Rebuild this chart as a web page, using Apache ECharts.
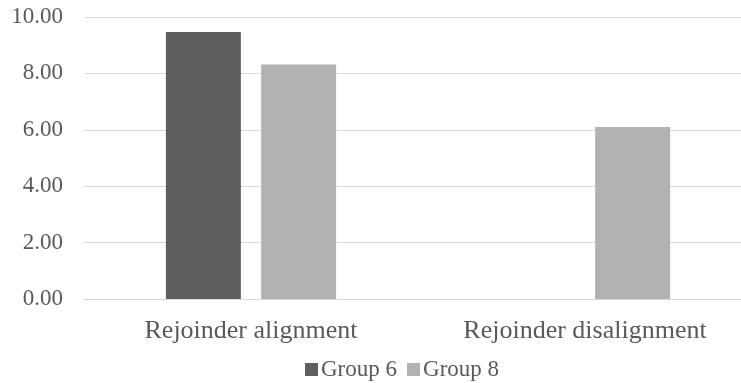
<!DOCTYPE html>
<html>
<head>
<meta charset="utf-8">
<script src="https://cdn.jsdelivr.net/npm/echarts@6/dist/echarts.min.js"></script>
<style>
  html, body { margin: 0; padding: 0; background: #fff; overflow: hidden; width: 741px; height: 383px; }
  /* the plot area runs slightly past the right edge of the page */
  #chart { width: 752px; height: 383px; }
</style>
</head>
<body>
<div id="chart"></div>
<script>
// Mean scores per rejoinder type
const categories = ['Rejoinder alignment', 'Rejoinder disalignment'];
const group6 = [9.47, 0];
const group8 = [8.32, 6.10];
const yTicks = { min: 0, max: 10, interval: 2 };

const textColor = '#595959';
const fontFamily = '"Liberation Serif", "Times New Roman", serif';

const chart = echarts.init(document.getElementById('chart'));
chart.setOption({
  animation: false,
  grid: { left: 84, right: 0, top: 17, bottom: 84, containLabel: false },
  legend: {
    data: ['Group 6', 'Group 8'],
    left: 300,
    top: 353,
    itemWidth: 13,
    itemHeight: 13,
    itemGap: 10,
    icon: 'rect',
    textStyle: { color: textColor, fontFamily: fontFamily, fontSize: 23, padding: [0, 0, 0, -2] }
  },
  xAxis: {
    type: 'category',
    data: categories,
    axisLine: { show: true, lineStyle: { color: '#d9d9d9', width: 1 } },
    axisTick: { show: false },
    axisLabel: { color: textColor, fontFamily: fontFamily, fontSize: 26, margin: 19 }
  },
  yAxis: {
    type: 'value',
    min: yTicks.min,
    max: yTicks.max,
    interval: yTicks.interval,
    axisLine: { show: false },
    axisTick: { show: false },
    splitLine: { lineStyle: { color: '#d9d9d9', width: 1 } },
    axisLabel: {
      color: textColor, fontFamily: fontFamily, fontSize: 23, margin: 21,
      formatter: v => v.toFixed(2)
    }
  },
  series: [
    {
      name: 'Group 6', type: 'bar', data: group6,
      barWidth: 75, barGap: '27%',
      itemStyle: { color: '#5f5f5f' }
    },
    {
      name: 'Group 8', type: 'bar', data: group8,
      barWidth: 75, barGap: '27%',
      itemStyle: { color: '#b2b2b2' }
    }
  ]
});
</script>
</body>
</html>
